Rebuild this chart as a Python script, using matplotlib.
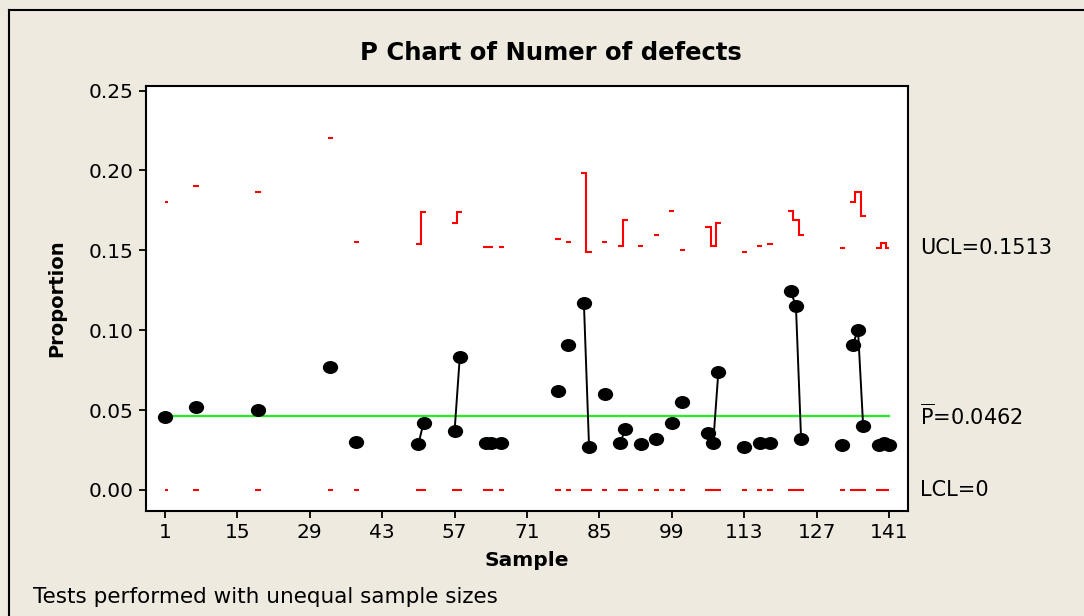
import numpy as np
import matplotlib
matplotlib.use('Agg')
import matplotlib.pyplot as plt
from matplotlib.path import Path
from matplotlib.lines import Line2D

# samples that have data (the rest are missing)
samples = [1, 7, 19, 33, 38, 50, 51, 57, 58, 63, 64, 66,
           77, 79, 82, 83, 86, 89, 90, 93, 96, 99, 101,
           106, 107, 108, 113, 116, 118, 122, 123, 124,
           132, 134, 135, 136, 139, 140, 141]
proportion = [0.0455, 0.0520, 0.0500, 0.0769, 0.0299, 0.0288, 0.0420, 0.0370, 0.0831, 0.0292, 0.0292, 0.0292,
              0.0620, 0.0909, 0.1172, 0.0269, 0.0600, 0.0292, 0.0380, 0.0288, 0.0319, 0.0420, 0.0549,
              0.0359, 0.0292, 0.0739, 0.0269, 0.0292, 0.0292, 0.1243, 0.1151, 0.0319,
              0.0279, 0.0909, 0.1003, 0.0399, 0.0279, 0.0292, 0.0279]
ucl = [0.1803, 0.1900, 0.1863, 0.2203, 0.1552, 0.1541, 0.1740, 0.1671, 0.1740, 0.1523, 0.1523, 0.1523,
       0.1571, 0.1550, 0.1982, 0.1491, 0.1552, 0.1525, 0.1692, 0.1525, 0.1596, 0.1744, 0.1502,
       0.1644, 0.1525, 0.1671, 0.1491, 0.1525, 0.1541, 0.1744, 0.1692, 0.1594,
       0.1513, 0.1803, 0.1863, 0.1713, 0.1513, 0.1543, 0.1513]
lcl = 0.0
pbar = 0.0462
n_samples = 141
xticks = [1, 15, 29, 43, 57, 71, 85, 99, 113, 127, 141]
yticks = [0.00, 0.05, 0.10, 0.15, 0.20, 0.25]

bg = '#eeeae0'
W, H = 1084, 616
fig = plt.figure(figsize=(W / 100, H / 100), dpi=100, facecolor=bg)
ax = fig.add_axes([146 / W, 1 - 511 / H, 762 / W, 425 / H])
ax.set_facecolor('white')

# full series with gaps for missing samples
x_all = np.arange(1, n_samples + 1)
p_all = np.full(n_samples, np.nan)
p_all[np.array(samples) - 1] = proportion

# runs of consecutive samples -> step control limits
runs = []
start = 0
for i in range(1, len(samples) + 1):
    if i == len(samples) or samples[i] != samples[i - 1] + 1:
        runs.append((start, i))
        start = i
for a, b in runs:
    s = np.array(samples[a:b])
    edges = np.append(s - 0.5, s[-1] + 0.5)
    edges = np.clip(edges, 1, n_samples)
    ax.stairs(ucl[a:b], edges, baseline=None, color='#ff0000', lw=1.5)
    ax.stairs(np.full(b - a, lcl), edges, baseline=None, color='#ff0000', lw=1.5)

ax.plot([1, n_samples], [pbar, pbar], color='#22ee22', lw=1.6)

circ = Path.unit_circle()
ellipse = Path(circ.vertices * [1.2, 1.0], circ.codes)
ax.plot(x_all, p_all, color='black', lw=1.4, marker=ellipse, ms=10,
        markerfacecolor='black', markeredgecolor='black')

ax.set_xlim(-2.67, 144.67)
ax.set_ylim(-0.0132, 0.2529)
ax.set_xticks(xticks)
ax.set_yticks(yticks)
ax.set_yticklabels([f'{v:.2f}' for v in yticks])
ax.tick_params(direction='out', length=5, width=1.3, labelsize=14.5, pad=4)
for sp in ax.spines.values():
    sp.set_linewidth(1.5)

# limit labels at right
ax.text(1.016, 0.1513, 'UCL=0.1513', transform=ax.get_yaxis_transform(),
        va='center', ha='left', fontsize=15)
ax.text(1.016, pbar, r'$\overline{\mathregular{P}}$=0.0462', transform=ax.get_yaxis_transform(),
        va='center', ha='left', fontsize=15)
ax.text(1.016, lcl, 'LCL=0', transform=ax.get_yaxis_transform(),
        va='center', ha='left', fontsize=15)

fig.text(551 / W, 1 - 53 / H, 'P Chart of Numer of defects', ha='center', va='center',
         fontsize=17.5, fontweight='bold')
fig.text(527 / W, 1 - 561 / H, 'Sample', ha='center', va='center', fontsize=14.5, fontweight='bold')
fig.text(57 / W, 1 - 298 / H, 'Proportion', ha='center', va='center', rotation=90,
         fontsize=14, fontweight='bold')
fig.text(33 / W, 1 - 597 / H, 'Tests performed with unequal sample sizes', ha='left', va='center',
         fontsize=15.5)

# outer frame (top and left edges visible)
fig.add_artist(Line2D([8.5 / W, 1], [1 - 9.5 / H, 1 - 9.5 / H], transform=fig.transFigure, color='black', lw=1.5))
fig.add_artist(Line2D([8.5 / W, 8.5 / W], [0, 1 - 9.5 / H], transform=fig.transFigure, color='black', lw=1.5))

fig.savefig('out.png', dpi=100, facecolor=bg)
